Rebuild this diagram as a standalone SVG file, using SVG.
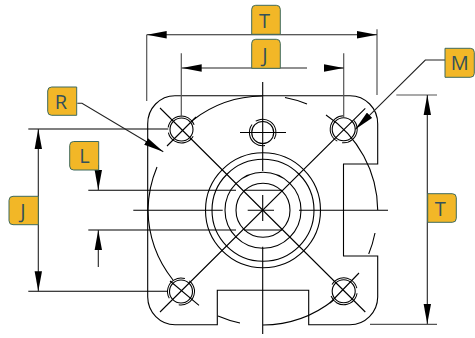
<svg xmlns="http://www.w3.org/2000/svg" width="475" height="338" viewBox="0 0 475 338">
<defs>
<marker id="a" markerUnits="userSpaceOnUse" markerWidth="20" markerHeight="8" refX="19" refY="3.500" orient="auto-start-reverse" viewBox="0 0 19 7"><path d="M0 0L19 3.500L0 7z" fill="#000"/></marker>
</defs>
<style>
.l{fill:none;stroke:#000;stroke-width:1.1}
.h{fill:none;stroke:#000;stroke-width:1.1}
.d{fill:none;stroke:#222;stroke-width:1.1}
.g{fill:none;stroke:#555;stroke-width:1.2}
.o{stroke-dasharray:38 6 42 14;fill:none;stroke:#000;stroke-width:1}
.b{fill:#f2b727;stroke:#3f6b5e;stroke-width:1}
.t{font-family:"Open Sans","Noto Sans",sans-serif;font-size:20px;fill:#33505a;text-anchor:middle}
</style>
<g id="body" class="l">
<path d="M175 95.700H350A27.700 28 0 0 1 377.700 124V164H343.500V256H377.700V297A27.700 28 0 0 1 350 324.700H308.700V290.300H217.300V324.700H175A27.300 28 0 0 1 147.700 297V124A27.300 28 0 0 1 175 95.700Z"/>
<path d="M193 120A115 115 0 0 1 262 96M285 97.500A115 115 0 0 1 307 104M326 115A115 115 0 0 1 377.700 210M375 233A115 115 0 0 1 368.700 254M333.700 300A115 115 0 0 1 263 325M240 323A115 115 0 0 1 218 316M173 280A115 115 0 0 1 148 210A115 115 0 0 1 157 167"/>
<circle cx="263" cy="210.300" r="57.500"/><circle cx="263" cy="210.300" r="51"/><circle cx="263" cy="210.300" r="38"/><circle cx="263" cy="210.300" r="27"/>
</g>
<g id="hole-nw"><circle class="h" cx="181.500" cy="129.500" r="11.500"/><circle class="o" pathLength="100" cx="181.500" cy="129.500" r="13.500" transform="rotate(30 181.500 129.500)"/></g>
<g id="hole-n"><circle class="h" cx="262.700" cy="132.500" r="11"/><circle class="o" pathLength="100" cx="262.700" cy="132.500" r="13.300" transform="rotate(80 262.700 132.500)"/></g>
<g id="hole-ne"><circle class="h" cx="343.700" cy="129.300" r="11.500"/><circle class="o" pathLength="100" cx="343.700" cy="129.300" r="13.500" transform="rotate(-40 343.700 129.300)"/></g>
<g id="hole-sw"><circle class="h" cx="181" cy="291.500" r="11.500"/><circle class="o" pathLength="100" cx="181" cy="291.500" r="13.500" transform="rotate(150 181 291.500)"/></g>
<g id="hole-se"><circle class="h" cx="343.700" cy="291.300" r="11.500"/><circle class="o" pathLength="100" cx="343.700" cy="291.300" r="13.500" transform="rotate(210 343.700 291.300)"/></g>
<g id="connectors">
<g class="l">
<path d="M160 108L365.300 312M160 312L365.300 108.300M167 146L196 117M170 281L199 305.300M359 273L330 303"/>
<path d="M262.700 82V171M262.700 246.700V334M262.700 195V221M247.700 210.300H274M133.300 210.300H222.700M299 210.300H388M240 132.500H286"/>
<path d="M28.300 129H168.300M28.300 291.300H168M88.300 190.200H236M88.300 230H236M244 190.200H282M244 230H282"/>
</g>
<g class="g">
<path d="M146.700 101V34.700M377 95V29.300M181.300 117V53.300M343.700 117V53.300M396.300 95H437M370 324.400H437"/>
</g>
<g class="d">
<path d="M146.700 34.700H377" marker-start="url(#a)" marker-end="url(#a)"/>
<path d="M181.700 68H307" marker-start="url(#a)"/>
<path d="M325 68H343.700" marker-end="url(#a)"/>
<path d="M38.300 129V291.300" marker-start="url(#a)" marker-end="url(#a)"/>
<path d="M427.300 95V324" marker-start="url(#a)" marker-end="url(#a)"/>
<path d="M98.300 165V190" marker-end="url(#a)"/>
<path d="M98.300 267V230" marker-end="url(#a)"/>
<path d="M77.300 103.300H82L163.300 151.700" marker-end="url(#a)"/>
<path d="M445 60H425.300L355.300 129.300" marker-end="url(#a)"/>
</g>
</g>
<g id="label-t-top"><path class="b" d="M251.700 34.300V9.300a4 4 0 0 1 4-4H276.300a4 4 0 0 1 4 4V34.300Z"/><text class="t" x="264.500" y="28">T</text></g>
<g id="label-j-top"><path class="b" d="M251.700 68.300V43.300a4 4 0 0 1 4-4H276.300a4 4 0 0 1 4 4V68.300Z"/><text class="t" x="265" y="62">J</text></g>
<g id="label-r"><path class="b" d="M76.700 87V115.300H51.700a4 4 0 0 1-4-4V91a4 4 0 0 1 4-4Z"/><text class="t" x="61" y="109">R</text></g>
<g id="label-l"><path class="b" d="M98.700 141.500V170H73.700a4 4 0 0 1-4-4V145.500a4 4 0 0 1 4-4Z"/><text class="t" x="84.500" y="163">L</text></g>
<g id="label-j-left"><path class="b" d="M38.300 196.300V224.700H13a4 4 0 0 1-4-4V200.300a4 4 0 0 1 4-4Z"/><text class="t" x="23" y="218">J</text></g>
<g id="label-m"><path class="b" d="M445 48.300H470.300a4 4 0 0 1 4 4V73.300a4 4 0 0 1-4 4H445Z"/><text class="t" x="459.700" y="70">M</text></g>
<g id="label-t-right"><path class="b" d="M427.700 193.700H452.300a4 4 0 0 1 4 4V218.300a4 4 0 0 1-4 4H427.700Z"/><text class="t" x="440.300" y="215.700">T</text></g>
</svg>
